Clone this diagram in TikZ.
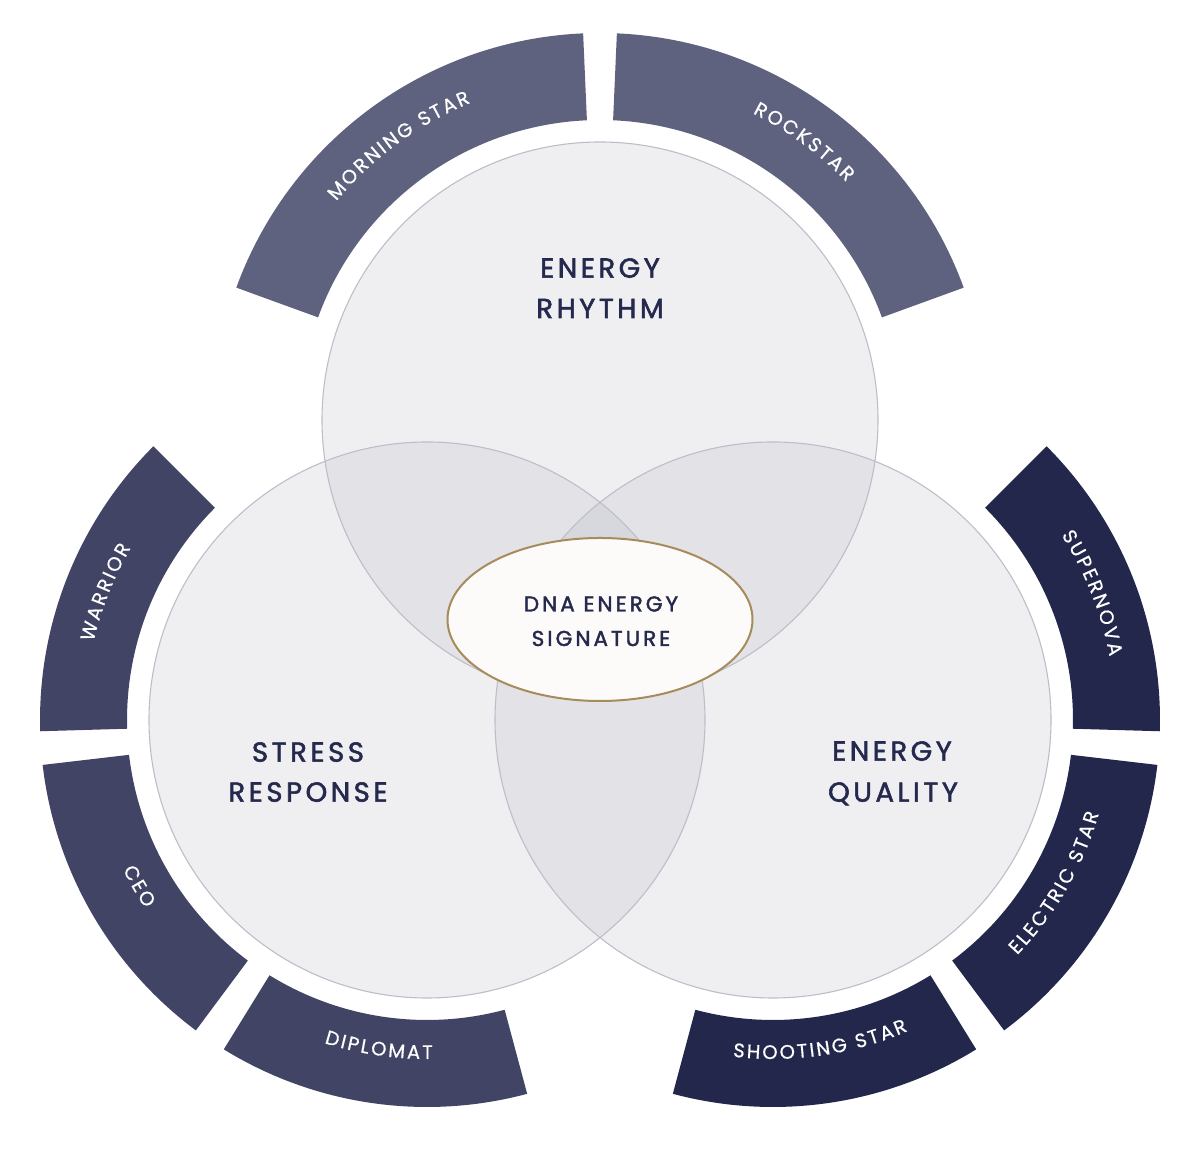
\documentclass[tikz,border=0pt]{standalone}
\usepackage{fontspec}
\setmainfont{Poppins}
\usetikzlibrary{decorations.text,shapes.geometric}
\definecolor{segtop}{HTML}{5E627E}
\definecolor{segleft}{HTML}{414465}
\definecolor{segright}{HTML}{23274B}
\definecolor{ink}{HTML}{25294D}
\definecolor{vennfill}{RGB}{170,170,186}
\definecolor{vennline}{RGB}{190,189,202}
\definecolor{gold}{HTML}{A88B5C}
\definecolor{cream}{HTML}{FCFBF9}
\newcommand\trk{\kern2.3pt}
\newcommand\segfont{\fontsize{19.5}{22}\selectfont\addfontfeature{FakeBold=0.6}}
\newcommand\ringseg[4]{%
  \fill[#4, shift={(#1)}] (#2:300) arc[start angle=#2, end angle=#3, radius=300]
    -- (#3:387) arc[start angle=#3, end angle=#2, radius=387] -- cycle;}
\newcommand\ringtext[5]{%
  \path[shift={(#1)}, decorate, decoration={text along path, text align=center,
    text={|\segfont\color{white}|#5}}] (#2:#4) arc[start angle=#2, end angle=#3, radius=#4];}
\begin{document}
\begin{tikzpicture}[x=1pt,y=1pt,
  vennc/.style={circle, minimum size=556, inner sep=0, fill=vennfill, fill opacity=0.19, draw=none},
  vennl/.style={draw=vennline, line width=1.1pt},
  lbl/.style={font=\fontsize{27.5}{30}\selectfont\addfontfeature{LetterSpace=13,FakeBold=2}, text=ink, anchor=base, inner sep=0},
  corelbl/.style={font=\fontsize{21.5}{24}\selectfont\addfontfeature{LetterSpace=14,FakeBold=1.8}, text=ink, anchor=base, inner sep=0}]
\useasboundingbox (0,0) rectangle (1200,1155);
\fill[white] (0,0) rectangle (1200,1155);
\coordinate (ct) at (600,735);
\coordinate (cl) at (427,435);
\coordinate (cr) at (773,435);
% Venn circles
\node[vennc] (rhythm) at (ct) {};
\node[vennc] (stress) at (cl) {};
\node[vennc] (quality) at (cr) {};
\draw[vennl] (rhythm.center) circle[radius=278];
\draw[vennl] (stress.center) circle[radius=278];
\draw[vennl] (quality.center) circle[radius=278];
% ring segments
\ringseg{ct}{160}{92.5}{segtop}
\ringseg{ct}{87.5}{20}{segtop}
\ringseg{cl}{135}{181.67}{segleft}
\ringseg{cl}{186.67}{233.33}{segleft}
\ringseg{cl}{238.33}{285}{segleft}
\ringseg{cr}{45}{-1.67}{segright}
\ringseg{cr}{-6.67}{-53.33}{segright}
\ringseg{cr}{-58.33}{-105}{segright}
% ring texts
\ringtext{ct}{160}{92.5}{342.5}{{M\trk}{O\trk}{R\trk}{N\trk}{I\trk}{N\trk}{G\trk}{\kern7pt}{S\trk}{T\trk}{A\trk}{R}}
\ringtext{ct}{87.5}{20}{342.5}{{R\trk}{O\trk}{C\trk}{K\trk}{S\trk}{T\trk}{A\trk}{R}}
\ringtext{cl}{181.67}{135}{342.5}{{W\trk}{A\trk}{R\trk}{R\trk}{I\trk}{O\trk}{R}}
\ringtext{cl}{186.67}{233.33}{339}{{C\trk}{E\trk}{O}}
\ringtext{cl}{238.33}{285}{339}{{D\trk}{I\trk}{P\trk}{L\trk}{O\trk}{M\trk}{A\trk}{T}}
\ringtext{cr}{45}{-1.67}{342.5}{{S\trk}{U\trk}{P\trk}{E\trk}{R\trk}{N\trk}{O\trk}{V\trk}{A}}
\ringtext{cr}{-53.33}{-6.67}{339}{{E\trk}{L\trk}{E\trk}{C\trk}{T\trk}{R\trk}{I\trk}{C\trk}{\kern7pt}{S\trk}{T\trk}{A\trk}{R}}
\ringtext{cr}{-105}{-58.33}{339}{{S\trk}{H\trk}{O\trk}{O\trk}{T\trk}{I\trk}{N\trk}{G\trk}{\kern7pt}{S\trk}{T\trk}{A\trk}{R}}
% centre ellipse
\node[ellipse, draw=gold, line width=2pt, fill=cream, minimum width=305, minimum height=163, inner sep=0] (core) at (600,535.5) {};
\node[corelbl] (dna1) at (601,543.5) {DNA ENERGY};
\node[corelbl] (dna2) at (601,509) {SIGNATURE};
% main labels
\node[lbl] (er1) at (600,877.3) {ENERGY};
\node[lbl] (er2) at (600,837) {RHYTHM};
\node[lbl] (sr1) at (308,393.3) {STRESS};
\node[lbl] (sr2) at (308,353.3) {RESPONSE};
\node[lbl] (eq1) at (892,394.3) {ENERGY};
\node[lbl] (eq2) at (893,353.3) {QUALITY};
\end{tikzpicture}
\end{document}
